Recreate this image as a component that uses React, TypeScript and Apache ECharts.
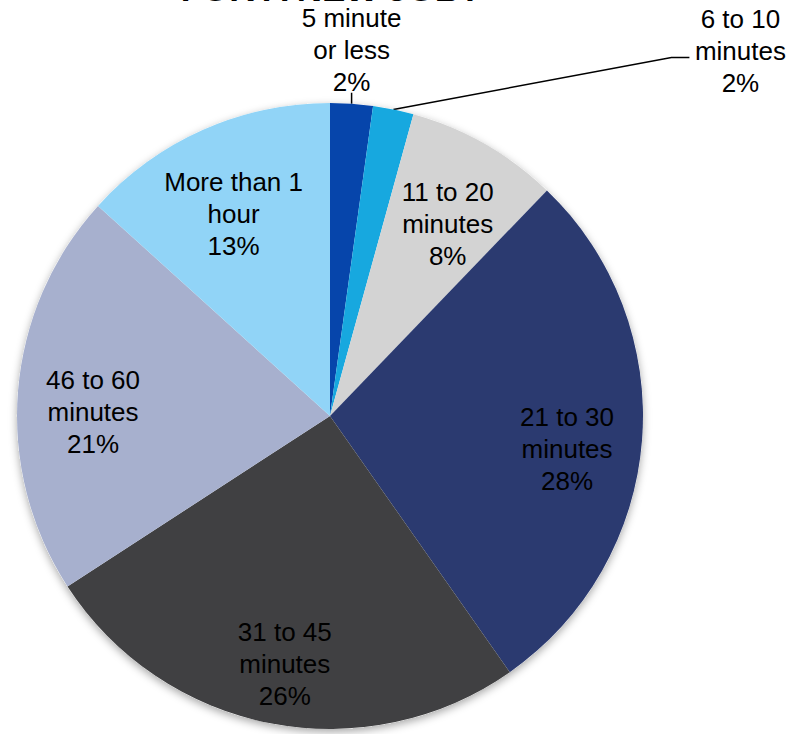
import React, { useEffect, useRef } from "react";
import * as echarts from "echarts";

const titleText = "FOR A NEW JOB?";
const categories = [
  "5 minute\nor less",
  "6 to 10\nminutes",
  "11 to 20\nminutes",
  "21 to 30\nminutes",
  "31 to 45\nminutes",
  "46 to 60\nminutes",
  "More than 1\nhour",
];
const values = [2.2, 2.1, 7.9, 28.1, 25.6, 20.9, 13.3];
const colors = ["#0645AB", "#17A8DF", "#D3D3D3", "#2B3A70", "#404042", "#A7B0CE", "#91D4F7"];
const outsideLabelIdx = [0, 1];

const FONT = "'Liberation Sans', Arial, Helvetica, sans-serif";

export default function App() {
  const ref = useRef<HTMLDivElement>(null);
  useEffect(() => {
    if (!ref.current) return;
    const chart = echarts.init(ref.current, null, { renderer: "svg" });
    const R = 313;
    const center = [330, 416];
    const data = categories.map((name, i) => ({
      name,
      value: values[i],
      itemStyle: { color: colors[i] },
    }));
    const labelBase = {
      color: "#000",
      fontFamily: FONT,
      fontSize: 26,
      lineHeight: 32,
      formatter: "{b}\n{d}%",
    };
    chart.setOption({
      animation: false,
      backgroundColor: "#fff",
      graphic: [
        {
          type: "text",
          x: 331,
          y: -12,
          style: {
            text: titleText,
            fill: "#000",
            font: `bold 35px ${FONT}`,
            textAlign: "center",
            textVerticalAlign: "middle",
          },
          z: 100,
        },
      ],
      series: [
        {
          type: "pie",
          center,
          radius: R,
          silent: true,
          z: 1,
          label: { show: false },
          labelLine: { show: false },
          data: [
            {
              value: 1,
              itemStyle: {
                color: "#fff",
                shadowBlur: 8,
                shadowColor: "rgba(0,0,0,0.35)",
                shadowOffsetY: 3,
              },
            },
          ],
        },
        {
          type: "pie",
          center,
          radius: R,
          startAngle: 90,
          clockwise: true,
          percentPrecision: 0,
          avoidLabelOverlap: false,
          z: 2,
          label: { ...labelBase, show: false, position: "outside" },
          labelLine: { show: false, lineStyle: { color: "#000", width: 1.5 } },
          data: data.map((d, i) =>
            outsideLabelIdx.includes(i)
              ? {
                  ...d,
                  label: { show: true },
                  labelLine: { show: true, length: 10, length2: 0 },
                }
              : d
          ),
          labelLayout: (params: any) => {
            const pts = params.labelLinePoints;
            if (!pts) return {};
            const p0 = pts[0];
            if (params.dataIndex === 0) {
              return {
                x: p0[0],
                y: p0[1] - 6,
                align: "center",
                verticalAlign: "bottom",
                labelLinePoints: [p0, [p0[0], p0[1] - 11], [p0[0], p0[1] - 11]],
              };
            }
            if (params.dataIndex === 1) {
              return {
                x: p0[0] + 347,
                y: p0[1] - 58,
                align: "center",
                verticalAlign: "middle",
                labelLinePoints: [
                  p0,
                  [p0[0] + 278, p0[1] - 52],
                  [p0[0] + 296, p0[1] - 52],
                ],
              };
            }
            return {};
          },
        },
        {
          type: "pie",
          center,
          radius: [0, R * 1.5],
          startAngle: 90,
          clockwise: true,
          percentPrecision: 0,
          avoidLabelOverlap: false,
          silent: true,
          z: 3,
          itemStyle: { color: "rgba(0,0,0,0)" },
          label: { ...labelBase, show: true, position: "inside" },
          labelLine: { show: false },
          labelLayout: () => ({ dy: 15 }),
          data: data.map((d, i) => ({
            name: d.name,
            value: d.value,
            itemStyle: { color: "rgba(0,0,0,0)" },
            label: { show: !outsideLabelIdx.includes(i) },
          })),
        },
      ],
    });
    return () => chart.dispose();
  }, []);
  return (
    <div
      ref={ref}
      style={{ position: "absolute", left: 0, top: 0, width: 807, height: 734 }}
    />
  );
}
